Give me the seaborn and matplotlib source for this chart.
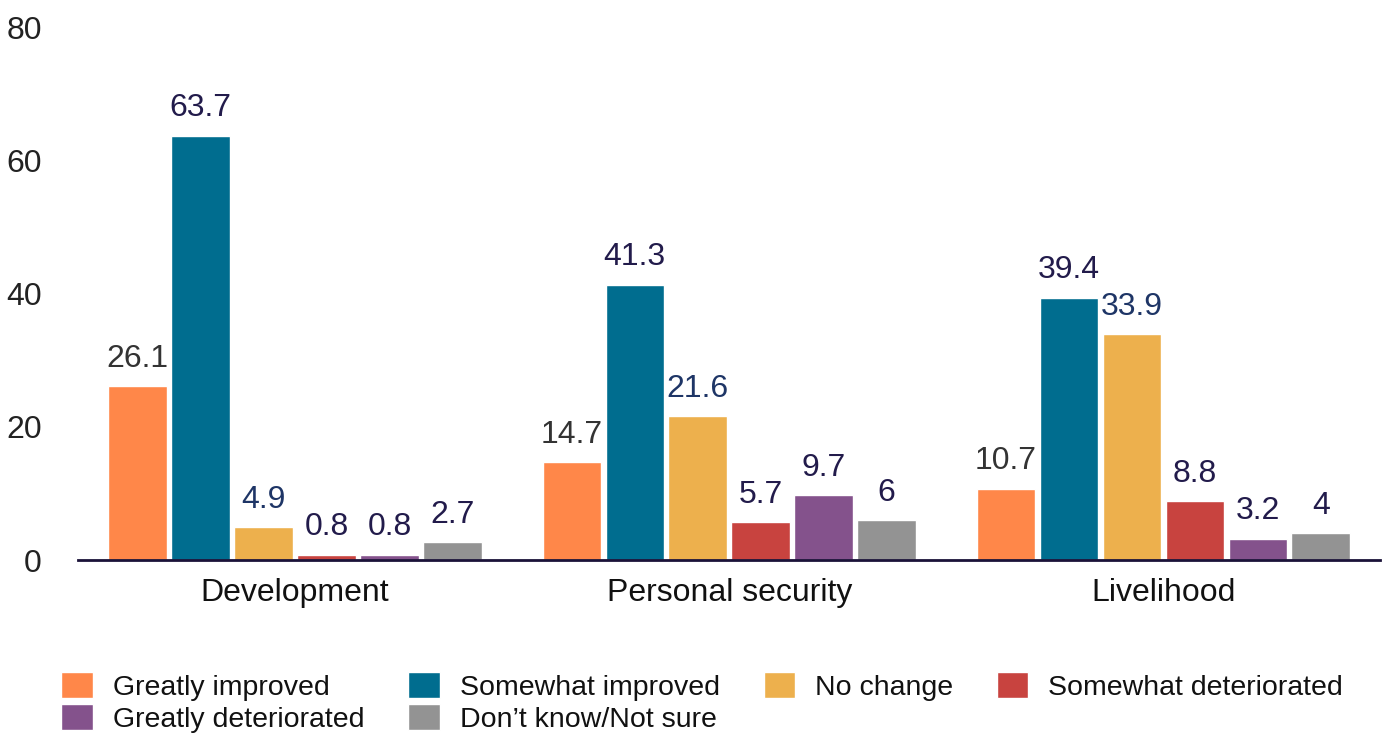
import pandas as pd
import matplotlib
matplotlib.use("Agg")
import matplotlib.pyplot as plt
import seaborn as sns

# Chart data
categories = ["Development", "Personal security", "Livelihood"]
responses = ["Greatly improved", "Somewhat improved", "No change",
             "Somewhat deteriorated", "Greatly deteriorated", "Don\u2019t know/Not sure"]
values = {
    "Greatly improved": [26.1, 14.7, 10.7],
    "Somewhat improved": [63.7, 41.3, 39.4],
    "No change": [4.9, 21.6, 33.9],
    "Somewhat deteriorated": [0.8, 5.7, 8.8],
    "Greatly deteriorated": [0.8, 9.7, 3.2],
    "Don\u2019t know/Not sure": [2.7, 6, 4],
}
bar_colors = ["#FF8749", "#006D8F", "#EDB04D", "#C8433F", "#84528C", "#939393"]
label_colors = ["#333333", "#221B4B", "#1E3566", "#221B4B", "#221B4B", "#221B4B"]

rows = []
for resp in responses:
    for cat, v in zip(categories, values[resp]):
        rows.append({"Category": cat, "Response": resp, "Value": v})
df = pd.DataFrame(rows)

sns.set_style("white")
plt.rcParams["font.family"] = ["Liberation Sans", "DejaVu Sans"]
FS = 23

fig = plt.figure(figsize=(13.93, 7.34), dpi=100)
ax = fig.add_axes([0.056, 0.237, 0.935, 0.726])

sns.barplot(data=df, x="Category", y="Value", hue="Response", hue_order=responses,
            order=categories, palette=bar_colors, width=0.87, gap=0.07,
            saturation=1, ax=ax, legend=True)

# value labels
for cont, col in zip(ax.containers, label_colors):
    labels = [f"{v:g}" for v in cont.datavalues]
    ax.bar_label(cont, labels=labels, padding=9, fontsize=FS, color=col)

ax.set_xlim(-0.5, 2.5)
ax.set_ylim(0, 80)
ax.set_yticks([0, 20, 40, 60, 80])
ax.set_xlabel("")
ax.set_ylabel("")
ax.tick_params(axis="y", length=0, pad=26, labelsize=FS, labelcolor="#222222")
ax.tick_params(axis="x", length=0, pad=13, labelsize=FS, labelcolor="#111111")
for s in ["top", "right", "left"]:
    ax.spines[s].set_visible(False)
ax.spines["bottom"].set_color("#1A1238")
ax.spines["bottom"].set_linewidth(2)

# legend: reorder so rows read left-to-right
handles, labs = ax.get_legend_handles_labels()
order = [0, 4, 1, 5, 2, 3]
ax.legend([handles[i] for i in order], [labs[i] for i in order],
          ncol=4, loc="upper left", bbox_to_anchor=(-0.0215, -0.188),
          frameon=False, fontsize=20.5, handlelength=1.1, handleheight=1.07,
          handletextpad=0.7, columnspacing=1.55, labelspacing=0.1,
          borderaxespad=0, labelcolor="#111111")

fig.savefig("out.png", dpi=100)
